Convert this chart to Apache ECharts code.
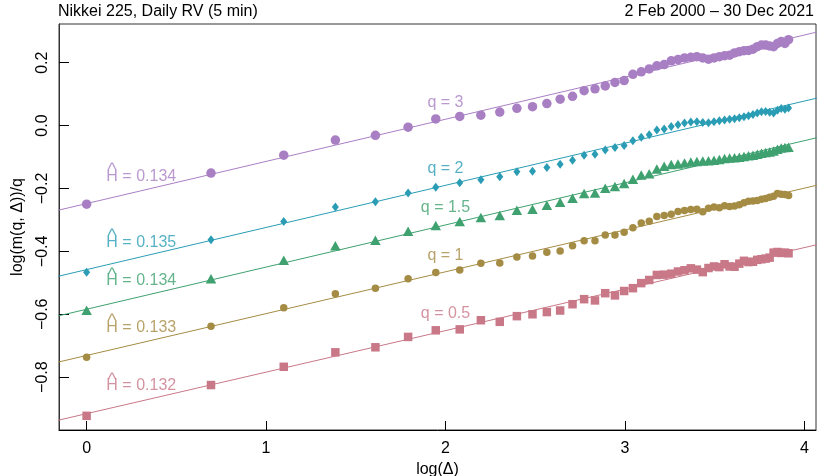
<!DOCTYPE html>
<html>
<head>
<meta charset="utf-8">
<script src="https://cdn.jsdelivr.net/npm/echarts@6/dist/echarts.min.js"></script>
<style>html,body{margin:0;padding:0;background:#fff;}#c{width:817px;height:476px;}</style>
</head>
<body>
<div id="c"></div>
<script>
const deltas = [1,2,3,4,5,6,7,8,9,10,11,12,13,14,15,16,17,18,19,20,21,22,23,24,25,26,27,28,29,30,31,32,33,34,35,36,37,38,39,40,41,42,43,44,45,46,47,48,49,50];

const q3 = [-0.250,-0.151,-0.094,-0.046,-0.031,-0.005,0.021,0.029,0.033,0.043,
  0.055,0.060,0.070,0.084,0.093,0.111,0.117,0.126,0.137,0.143,
  0.163,0.171,0.180,0.190,0.194,0.206,0.210,0.215,0.217,0.219,
  0.215,0.211,0.215,0.219,0.222,0.224,0.231,0.235,0.238,0.239,
  0.243,0.251,0.256,0.256,0.253,0.251,0.261,0.267,0.261,0.273];
const q2 = [-0.466,-0.363,-0.305,-0.259,-0.242,-0.214,-0.196,-0.182,-0.172,-0.163,
  -0.147,-0.145,-0.133,-0.123,-0.110,-0.094,-0.091,-0.078,-0.070,-0.063,
  -0.048,-0.037,-0.029,-0.014,-0.011,-0.003,0.003,0.008,0.011,0.012,
  0.010,0.009,0.012,0.015,0.018,0.020,0.022,0.025,0.028,0.031,
  0.035,0.040,0.044,0.045,0.042,0.040,0.049,0.054,0.052,0.056];
const q15 = [-0.587,-0.487,-0.428,-0.382,-0.365,-0.336,-0.318,-0.305,-0.292,-0.286,
  -0.269,-0.266,-0.253,-0.244,-0.231,-0.216,-0.214,-0.199,-0.194,-0.184,
  -0.171,-0.157,-0.153,-0.138,-0.129,-0.124,-0.122,-0.119,-0.116,-0.114,
  -0.113,-0.112,-0.110,-0.108,-0.105,-0.103,-0.102,-0.101,-0.098,-0.096,
  -0.094,-0.091,-0.088,-0.086,-0.084,-0.081,-0.075,-0.071,-0.070,-0.069];
const q1 = [-0.737,-0.638,-0.579,-0.535,-0.517,-0.487,-0.467,-0.459,-0.438,-0.437,
  -0.418,-0.415,-0.403,-0.399,-0.382,-0.366,-0.366,-0.348,-0.348,-0.339,
  -0.325,-0.310,-0.304,-0.289,-0.286,-0.282,-0.273,-0.270,-0.267,-0.266,
  -0.274,-0.263,-0.259,-0.261,-0.255,-0.257,-0.256,-0.252,-0.245,-0.241,
  -0.240,-0.238,-0.234,-0.232,-0.228,-0.225,-0.216,-0.218,-0.219,-0.222];
const q05 = [-0.923,-0.825,-0.767,-0.721,-0.705,-0.672,-0.651,-0.648,-0.619,-0.624,
  -0.606,-0.600,-0.593,-0.588,-0.568,-0.552,-0.556,-0.533,-0.540,-0.526,
  -0.517,-0.501,-0.491,-0.475,-0.474,-0.471,-0.464,-0.460,-0.454,-0.458,
  -0.466,-0.453,-0.448,-0.450,-0.441,-0.448,-0.449,-0.439,-0.430,-0.434,
  -0.433,-0.427,-0.425,-0.423,-0.420,-0.404,-0.402,-0.405,-0.404,-0.406];

const seriesValues = [q3, q2, q15, q1, q05];
const qLabels = ['q = 3','q = 2','q = 1.5','q = 1','q = 0.5'];
const qLabelX = [2.0, 2.0, 2.0, 2.0, 2.0];
const qLabelY = [0.074, -0.137, -0.262, -0.413, -0.597];
const hValues = ['0.134','0.135','0.134','0.133','0.132'];
const hLabelX = [0.11, 0.11, 0.11, 0.11, 0.11];
const hLabelY = [-0.162, -0.371, -0.493, -0.642, -0.827];
const fitIntercept = [-0.248, -0.458, -0.584, -0.731, -0.916];
const fitSlope = [0.134, 0.134, 0.134, 0.133, 0.132];
const xTicks = [0, 1, 2, 3, 4];
const yTicks = [-0.8, -0.6, -0.4, -0.2, 0, 0.2];

const colors = ['#A97FC4', '#2A9DB5', '#3FA16F', '#A58C44', '#C97888'];
const symbols = ['circle', 'diamond', 'triangle', 'circle', 'rect'];
const symbolSizes = [9.5, [7, 9], [10.5, 9.5], 7.5, 8.5];

const X_MIN = -0.154, X_MAX = 4.065, Y_MIN = -0.968, Y_MAX = 0.323;
const FONT = 'Liberation Sans, Arial, Helvetica, sans-serif';

const series = [];
seriesValues.forEach((vals, i) => {
  series.push({
    type: 'line', silent: true, showSymbol: false, clip: true, z: 2,
    data: [[X_MIN - 0.1, fitIntercept[i] + fitSlope[i] * (X_MIN - 0.1)],
           [X_MAX + 0.1, fitIntercept[i] + fitSlope[i] * (X_MAX + 0.1)]],
    lineStyle: { color: colors[i], width: 1 }
  });
  series.push({
    type: 'scatter', symbol: symbols[i], symbolSize: symbolSizes[i], z: 3,
    itemStyle: { color: colors[i], opacity: 1 },
    data: deltas.map((d, k) => [Math.log(d), vals[k]])
  });
  series.push({
    type: 'scatter', symbolSize: 0, silent: true, z: 4,
    data: [[qLabelX[i], qLabelY[i]]],
    label: { show: true, position: 'inside', formatter: qLabels[i], color: colors[i], fontSize: 16, fontFamily: FONT }
  });
  series.push({
    type: 'scatter', symbolSize: 0, silent: true, z: 4,
    data: [[hLabelX[i], hLabelY[i]]],
    label: { show: true, position: 'right', distance: 0, align: 'left',
      formatter: 'H = ' + hValues[i], color: colors[i], fontSize: 16, fontFamily: FONT }
  });
  series.push({
    type: 'scatter', symbolSize: 0, silent: true, z: 4,
    data: [[hLabelX[i], hLabelY[i]]],
    label: { show: true, position: 'right', distance: 0, align: 'left', offset: [1.5, -6],
      formatter: '^', color: colors[i], fontSize: 18, fontFamily: FONT }
  });
});

const chart = echarts.init(document.getElementById('c'), null, { renderer: 'canvas' });
chart.setOption({
  animation: false,
  backgroundColor: '#fff',
  textStyle: { fontFamily: FONT },
  title: [
    { text: 'Nikkei 225, Daily RV (5 min)', left: 58, top: 4, padding: 0,
      textStyle: { fontSize: 16, fontWeight: 'normal', color: '#000', fontFamily: FONT } },
    { text: '2 Feb 2000 \u2013 30 Dec 2021', right: 3, top: 4, padding: 0,
      textStyle: { fontSize: 16, fontWeight: 'normal', color: '#000', fontFamily: FONT } }
  ],
  grid: { left: 59, right: 1, top: 24, bottom: 46, show: true, borderColor: '#333', borderWidth: 1,
    backgroundColor: 'transparent', containLabel: false, outerBoundsMode: 'none' },
  xAxis: {
    type: 'value', min: X_MIN, max: X_MAX,
    axisLine: { show: true, onZero: false, lineStyle: { color: '#000', width: 1 } },
    axisTick: { show: true, inside: true, length: 9, customValues: xTicks, lineStyle: { color: '#000' } },
    axisLabel: { customValues: xTicks, fontSize: 16, color: '#000', margin: 11, fontFamily: FONT },
    splitLine: { show: false },
    name: 'log(\u0394)', nameLocation: 'middle', nameGap: 29,
    nameTextStyle: { fontSize: 16, color: '#000', fontFamily: FONT }
  },
  yAxis: {
    type: 'value', min: Y_MIN, max: Y_MAX,
    axisLine: { show: true, onZero: false, lineStyle: { color: '#333', width: 1 } },
    axisTick: { show: true, inside: true, length: 10, customValues: yTicks, lineStyle: { color: '#000' } },
    axisLabel: { customValues: yTicks, rotate: 90, fontSize: 16, color: '#000', margin: 8, fontFamily: FONT,
      formatter: v => (v < 0 ? '\u2212' : '') + Math.abs(v).toFixed(1) },
    splitLine: { show: false },
    name: 'log(m(q, \u0394))/q', nameLocation: 'middle', nameGap: 33,
    nameTextStyle: { fontSize: 16, color: '#000', fontFamily: FONT }
  },
  series: series
});
</script>
</body>
</html>
